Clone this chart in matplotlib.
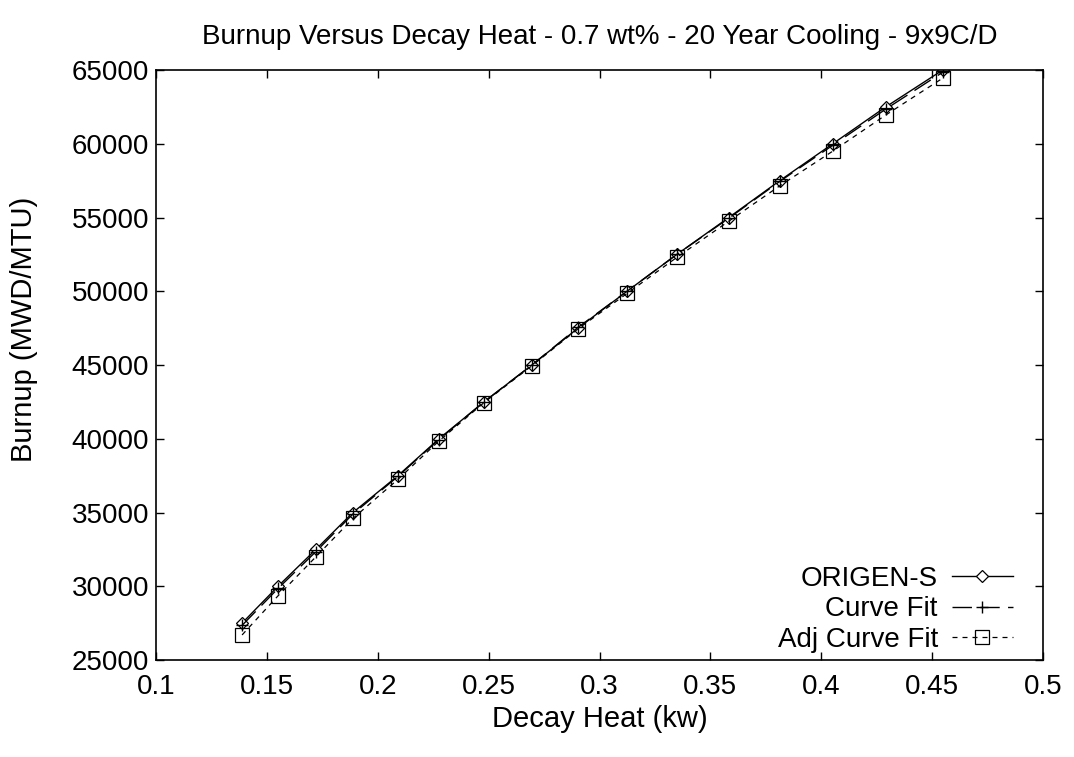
import numpy as np
import matplotlib.pyplot as plt

plt.rcParams['font.family'] = ['Liberation Sans', 'DejaVu Sans']

# decay heat (kw) at each burnup step
decay_heat = [0.1388, 0.1550, 0.1721, 0.1888, 0.2091, 0.2276, 0.2479, 0.2695,
              0.2903, 0.3124, 0.3349, 0.3583, 0.3813, 0.4052, 0.4291, 0.4548]
origen_s = [27500, 30000, 32500, 35000, 37500, 40000, 42500, 45000,
            47500, 50000, 52500, 55000, 57500, 60000, 62500, 65000]
curve_fit = [27350, 29850, 32350, 34900, 37450, 39950, 42500, 45000,
             47550, 50000, 52500, 54950, 57450, 59900, 62350, 64850]
adj_curve_fit = [26700, 29350, 32000, 34600, 37250, 39850, 42450, 44950,
                 47450, 49850, 52300, 54750, 57150, 59500, 61950, 64450]

fig = plt.figure(figsize=(10.74, 7.57), dpi=100)
ax = fig.add_axes([0.1453, 0.1281, 0.8258, 0.7794])

ax.plot(decay_heat, origen_s, color='black', linewidth=1.0, marker='D',
        markersize=6, markerfacecolor='white', markeredgewidth=0.9,
        label='ORIGEN-S')
ax.plot(decay_heat, curve_fit, color='black', linewidth=1.0,
        linestyle=(0, (14, 6)), marker='+', markersize=9,
        markeredgewidth=1.0, label='Curve Fit')
ax.plot(decay_heat, adj_curve_fit, color='black', linewidth=0.9,
        linestyle=(0, (4, 4)), marker='s', markersize=10,
        markerfacecolor='none', markeredgewidth=0.9, label='Adj Curve Fit')

ax.set_xlim(0.1, 0.5)
ax.set_ylim(25000, 65000)
ax.set_xticks(np.arange(0.1, 0.501, 0.05))
ax.set_xticklabels(['0.1', '0.15', '0.2', '0.25', '0.3', '0.35', '0.4', '0.45', '0.5'])
ax.set_yticks(np.arange(25000, 65001, 5000))
ax.tick_params(direction='in', length=6, width=1, top=True, right=True,
               labelsize=20)
ax.tick_params(axis='x', pad=10)
ax.tick_params(axis='y', pad=5)
for s in ax.spines.values():
    s.set_linewidth(1.2)

ax.set_xlabel('Decay Heat (kw)', fontsize=21)
ax.xaxis.set_label_coords(0.5, -0.076)
ax.set_ylabel('Burnup (MWD/MTU)', fontsize=21)
ax.yaxis.set_label_coords(-0.133, 0.56)
ax.set_title('Burnup Versus Decay Heat - 0.7 wt% - 20 Year Cooling - 9x9C/D',
             fontsize=20, pad=19)

ax.legend(loc='lower right', bbox_to_anchor=(0.966, 0.012), frameon=False,
          markerfirst=False, fontsize=20, handlelength=2.2, handletextpad=0.5,
          labelspacing=0.17, borderpad=0, borderaxespad=0)

fig.savefig('out.png', dpi=100)
